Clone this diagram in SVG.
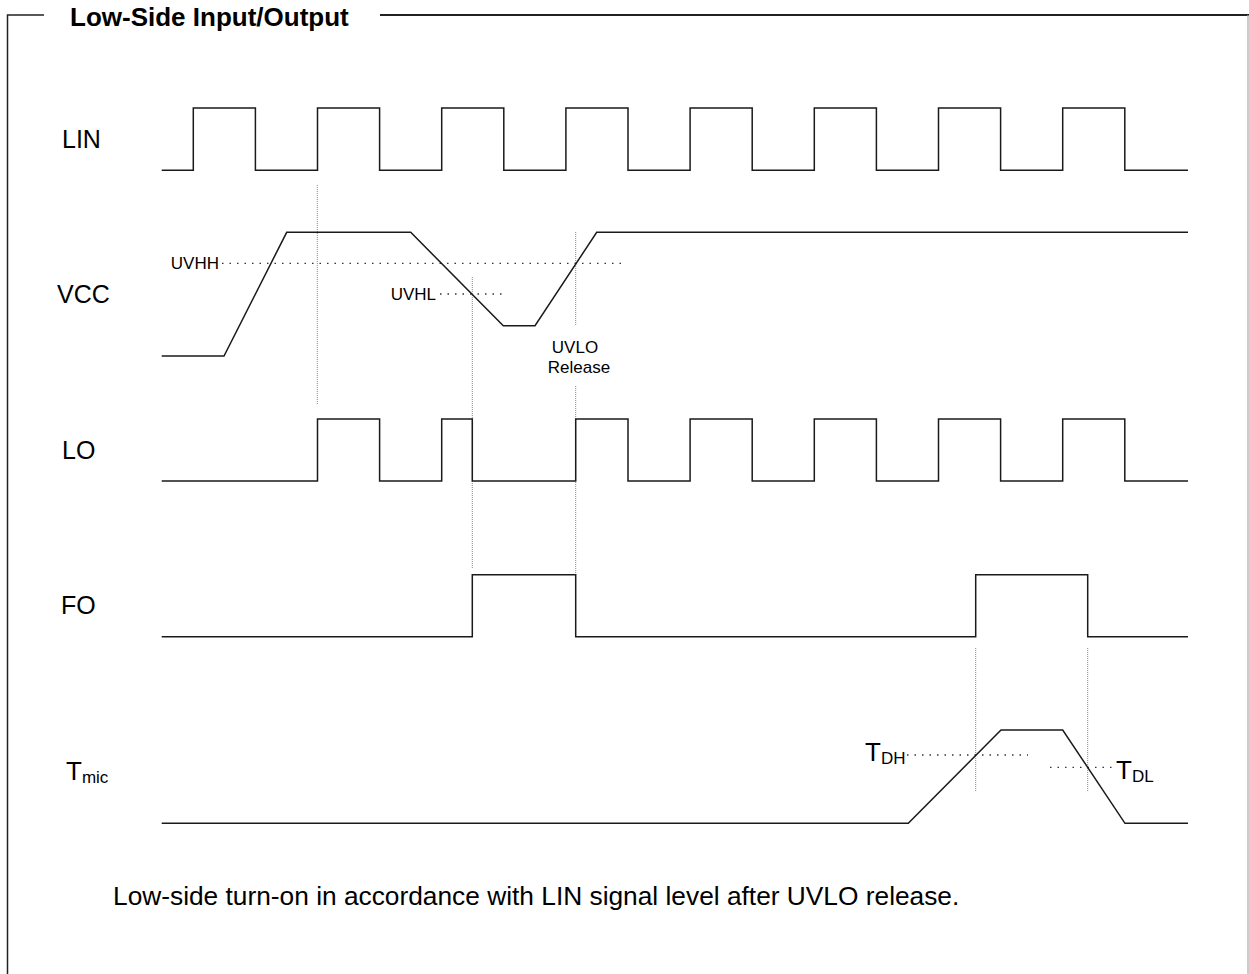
<svg xmlns="http://www.w3.org/2000/svg" width="1249" height="974" viewBox="0 0 1249 974">
<style>
text{font-family:"Liberation Sans",Arial,sans-serif;fill:#000}
.sig{fill:none;stroke:#1a1a1a;stroke-width:1.5;stroke-linejoin:miter}
.lbl{font-size:25px}
.sm{font-size:17px}
.sub{font-size:17px}
.thr{fill:none;stroke:#333;stroke-width:1.3;stroke-dasharray:1.5 6}
.ref{fill:none;stroke:#888;stroke-width:1;stroke-dasharray:1 1}
</style>
<rect width="1249" height="974" fill="#fff"/>
<g id="frame">
<path d="M7.5,974 V15 H44" fill="none" stroke="#222" stroke-width="1.5"/>
<path d="M380,15 H1249" fill="none" stroke="#222" stroke-width="1.8"/>
<path d="M1248,15 V974" fill="none" stroke="#aaa" stroke-width="1.2"/>
<text x="70" y="26" font-size="26" font-weight="bold">Low-Side Input/Output</text>
</g>
<g id="connectors">
<path class="ref" d="M317.3,185 V404"/>
<path class="ref" d="M472.3,277 V568"/>
<path class="ref" d="M575.7,232 V326 M575.7,386 V576"/>
<path class="ref" d="M975.7,648 V792"/>
<path class="ref" d="M1087.7,648 V792"/>
<path class="thr" d="M222,263.3 H624"/>
<path class="thr" d="M440,294 H504"/>
<path class="thr" d="M907,755 H1028"/>
<path class="thr" d="M1050,767.3 H1112"/>
</g>
<g id="LIN">
<text class="lbl" x="62" y="148">LIN</text>
<path class="sig" d="M161.7,170.3 H193.3 V108 H255.4 V170.3 H317.5 V108 H379.6 V170.3 H441.7 V108 H503.8 V170.3 H565.9 V108 H628 V170.3 H690.1 V108 H752.2 V170.3 H814.3 V108 H876.4 V170.3 H938.5 V108 H1000.6 V170.3 H1062.7 V108 H1124.8 V170.3 H1188"/>
</g>
<g id="VCC">
<text class="lbl" x="57" y="303">VCC</text>
<path class="sig" d="M161.7,356 L224,356 L286.7,232.3 L410.7,232.3 L503.3,325.7 L535,325.7 L596.7,232.3 L1188,232.3"/>
<text class="sm" x="219" y="269" text-anchor="end">UVHH</text>
<text class="sm" x="436" y="300" text-anchor="end">UVHL</text>
<text class="sm" x="575" y="353" text-anchor="middle">UVLO</text>
<text class="sm" x="579" y="373" text-anchor="middle">Release</text>
</g>
<g id="LO">
<text class="lbl" x="62" y="459">LO</text>
<path class="sig" d="M161.7,481 H317.5 V419 H379.6 V481 H441.7 V419 H472.3 V481 H575.7 V419 H628 V481 H690.1 V419 H752.2 V481 H814.3 V419 H876.4 V481 H938.5 V419 H1000.6 V481 H1062.7 V419 H1124.8 V481 H1188"/>
</g>
<g id="FO">
<text class="lbl" x="61" y="614">FO</text>
<path class="sig" d="M161.7,636.7 H472.3 V574.7 H575.7 V636.7 H975.7 V574.7 H1087.7 V636.7 H1188"/>
</g>
<g id="Tmic">
<text x="66" y="780" font-size="26">T<tspan class="sub" dy="3">mic</tspan></text>
<path class="sig" d="M161.7,823.3 H908.3 L1001,730 H1062.7 L1125,823.3 H1188"/>
<text x="865" y="761" font-size="26">T<tspan class="sub" dy="3">DH</tspan></text>
<text x="1116" y="779" font-size="26">T<tspan class="sub" dy="3">DL</tspan></text>
</g>
<g id="note">
<text x="113" y="905" font-size="26.3">Low-side turn-on in accordance with LIN signal level after UVLO release.</text>
</g>
</svg>
